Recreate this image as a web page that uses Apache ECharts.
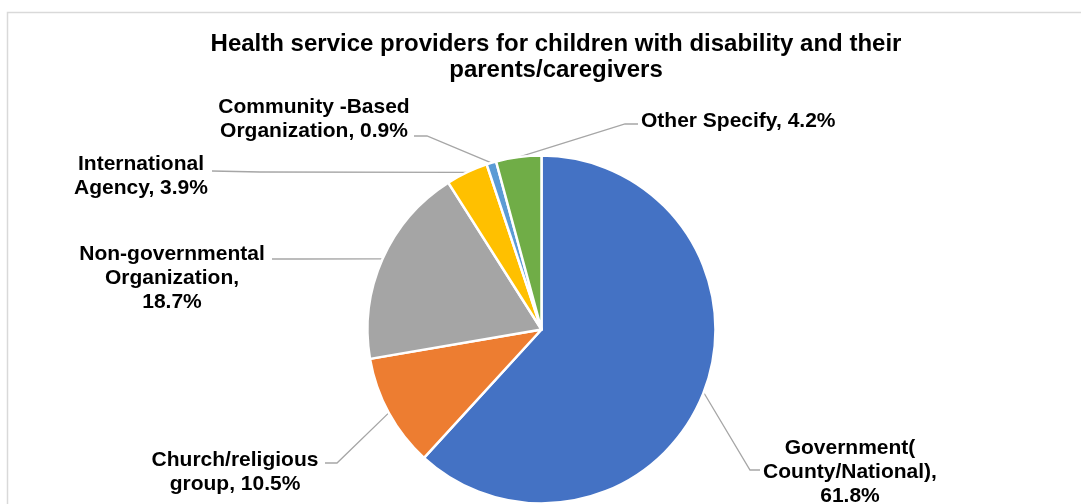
<!DOCTYPE html>
<html>
<head>
<meta charset="utf-8">
<script src="https://cdn.jsdelivr.net/npm/echarts@6/dist/echarts.min.js"></script>
<style>
  html, body { margin: 0; padding: 0; background: #fff; }
  #chart { width: 1081px; height: 504px; }
</style>
</head>
<body>
<div id="chart"></div>
<script>
// Provider categories (clockwise from 12 o'clock) with their wrapped display text
const categories = [
  'Government( County/National)',
  'Church/religious group',
  'Non-governmental Organization',
  'International Agency',
  'Community -Based Organization',
  'Other Specify'
];
const labelNames = [
  'Government(\nCounty/National)',
  'Church/religious\ngroup',
  'Non-governmental\nOrganization',
  'International\nAgency',
  'Community -Based\nOrganization',
  'Other Specify'
];
const labelSeparators = [',\n', ', ', ',\n', ', ', ', ', ', '];
// Share of respondents, percent
const shares = [61.8, 10.5, 18.7, 3.9, 0.9, 4.2];
const colors = ['#4472c4', '#ed7d31', '#a5a5a5', '#ffc000', '#5b9bd5', '#70ad47'];

// Label placement: text anchor point, alignment, and leader-line bends
const labelPlacement = [
  { x: 850, y: 472, align: 'center', bends: [[750, 470], [760, 470]] },
  { x: 235, y: 472, align: 'center', bends: [[337, 463], [325, 463]] },
  { x: 172, y: 278, align: 'center', bends: [[300, 259], [272, 259]] },
  { x: 141, y: 176, align: 'center', bends: [[260, 172], [212, 171]] },
  { x: 314, y: 119, align: 'center', bends: [[427, 136], [414, 136]] },
  { x: 641, y: 121, align: 'left',   bends: [[625, 124], [638, 124]] }
];

const pieCenter = [541.5, 329.5];
const pieRadius = 174;

// Edge point at the middle of a slice, used when the library gives no anchor
function sliceAnchor(idx) {
  const total = shares.reduce((a, b) => a + b, 0);
  let before = 0;
  for (let i = 0; i < idx; i++) before += shares[i];
  const mid = (before + shares[idx] / 2) / total * Math.PI * 2;
  return [pieCenter[0] + pieRadius * Math.sin(mid), pieCenter[1] - pieRadius * Math.cos(mid)];
}

const chart = echarts.init(document.getElementById('chart'), null, { renderer: 'canvas' });

const option = {
  animation: false,
  backgroundColor: '#ffffff',
  color: colors,
  title: {
    text: 'Health service providers for children with disability and their\nparents/caregivers',
    left: 551,
    top: 26,
    textAlign: 'center',
    textStyle: {
      fontFamily: 'Liberation Sans, Arial, sans-serif',
      fontWeight: 'bold',
      fontSize: 24,
      lineHeight: 26,
      color: '#000000'
    }
  },
  graphic: [{
    type: 'rect',
    shape: { x: 7.5, y: 12.5, width: 1100, height: 520 },
    style: { fill: 'none', stroke: '#d9d9d9', lineWidth: 1.5 },
    silent: true,
    z: -1
  }],
  series: [{
    type: 'pie',
    center: pieCenter,
    radius: pieRadius,
    startAngle: 90,
    clockwise: true,
    avoidLabelOverlap: false,
    itemStyle: { borderColor: '#ffffff', borderWidth: 2.5 },
    label: {
      show: true,
      position: 'outside',
      color: '#000000',
      fontFamily: 'Liberation Sans, Arial, sans-serif',
      fontWeight: 'bold',
      fontSize: 21,
      lineHeight: 24,
      formatter: p => labelNames[p.dataIndex] + labelSeparators[p.dataIndex] + p.value.toFixed(1) + '%'
    },
    labelLine: {
      show: true,
      lineStyle: { color: '#a6a6a6', width: 1.3 }
    },
    labelLayout: params => {
      const pl = labelPlacement[params.dataIndex];
      const anchor = (params.labelLinePoints && params.labelLinePoints[0])
        ? params.labelLinePoints[0] : sliceAnchor(params.dataIndex);
      return {
        x: pl.x,
        y: pl.y,
        align: pl.align,
        verticalAlign: 'middle',
        labelLinePoints: [anchor, pl.bends[0], pl.bends[1]]
      };
    },
    data: categories.map((name, i) => ({ name: name, value: shares[i] }))
  }]
};

chart.setOption(option);
</script>
</body>
</html>
